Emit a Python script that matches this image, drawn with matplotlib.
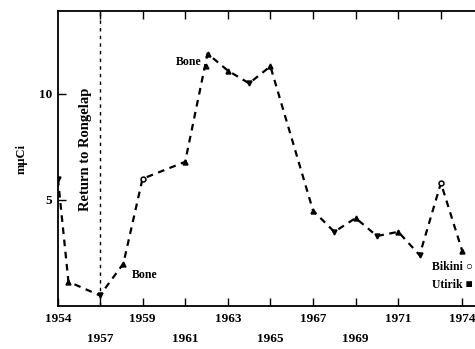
import numpy as np
import matplotlib
matplotlib.use('Agg')
import matplotlib.pyplot as plt

# body burden readings, Rongelap
years = [1954.0, 1954.75, 1957.0, 1958.1, 1959.0, 1961.0, 1962.05, 1963.0, 1964.0,
         1965.0, 1967.0, 1968.0, 1969.0, 1970.0, 1971.0, 1972.0, 1973.0, 1974.0]
mci = [6.0, 1.15, 0.5, 2.0, 6.0, 6.8, 11.9, 11.1, 10.5,
       11.3, 4.5, 3.5, 4.15, 3.3, 3.5, 2.4, 5.8, 2.6]
marks = ['v', '^', 'v', '^', 'o', '^', '^', '^', 'v',
         '^', '^', 'v', '^', 'v', '^', 'v', 'o', '^']
extra_year = [1962.0]
extra_val = [11.3]

bottom_ticks = [1954, 1957, 1959, 1961, 1963, 1965, 1967, 1969, 1971, 1974]
bottom_labels = ['1954', '\n1957', '1959', '\n1961', '1963', '\n1965', '1967', '\n1969', '1971', '1974']
top_ticks = [1957, 1959, 1961, 1963, 1965, 1967, 1969, 1971, 1973]

plt.rcParams['font.family'] = ['Liberation Serif', 'DejaVu Sans']
plt.rcParams['font.weight'] = 'bold'

# years before the return are squeezed together
K = 0.656
def fwd(x):
    x = np.asarray(x, dtype=float)
    return np.where(x < 1957, 1957 - (1957 - x) * K, x)
def inv(x):
    x = np.asarray(x, dtype=float)
    return np.where(x < 1957, 1957 - (1957 - x) / K, x)

fig = plt.figure(figsize=(4.75, 3.49), dpi=100)
ax = fig.add_axes([0.122, 0.123, 0.878, 0.845])
ax.set_xscale('function', functions=(fwd, inv))
ax.set_xlim(1954, 1974.6)
ax.set_ylim(0, 13.9)

ax.plot(years, mci, color='black', lw=1.6, ls=(0, (3, 2.5)))
for x, y, m in zip(years, mci, marks):
    ax.plot(x, y, marker=m, ms=3.5, color='black', mfc='black' if m != 'o' else 'white', mew=1.1)
ax.plot(extra_year, extra_val, marker='^', ms=3.5, color='black', ls='none')

ax.axvline(1957, color='black', lw=1, ls=(0, (2.5, 3)))
ax.text(1955.95, 7.4, 'Return to Rongelap', rotation=90, ha='center', va='center', fontsize=10.5)
ax.text(1961.75, 11.5, 'Bone', ha='right', va='center', fontsize=8.5)
ax.text(1958.5, 1.45, 'Bone', ha='left', va='center', fontsize=8.5)
ax.text(1974.5, 1.85, 'Bikini \u25cb', ha='right', va='center', fontsize=8.5)
ax.text(1974.5, 1.0, 'Utirik \u25a0', ha='right', va='center', fontsize=8.5)

ax.set_ylabel('m\u03bcCi', fontsize=9, fontweight='bold', labelpad=8)
ax.set_yticks([5, 10])
ax.set_yticklabels(['5', '10'], fontsize=9.5)

ax.set_xticks(bottom_ticks)
ax.set_xticklabels(bottom_labels, fontsize=9.5, linespacing=1.9)
ax.set_xticks(top_ticks, minor=True)
ax.xaxis.remove_overlapping_locs = False
ax.tick_params(which='major', direction='in', length=6, width=1, bottom=True, top=False, pad=5)
ax.tick_params(which='minor', direction='in', length=6, width=1, bottom=False, top=True)
ax.tick_params(axis='y', direction='in', length=6, width=1, pad=4)

ax.spines['right'].set_visible(False)
for s in ['left', 'top', 'bottom']:
    ax.spines[s].set_linewidth(1.3)

fig.savefig('out.png', dpi=100)
